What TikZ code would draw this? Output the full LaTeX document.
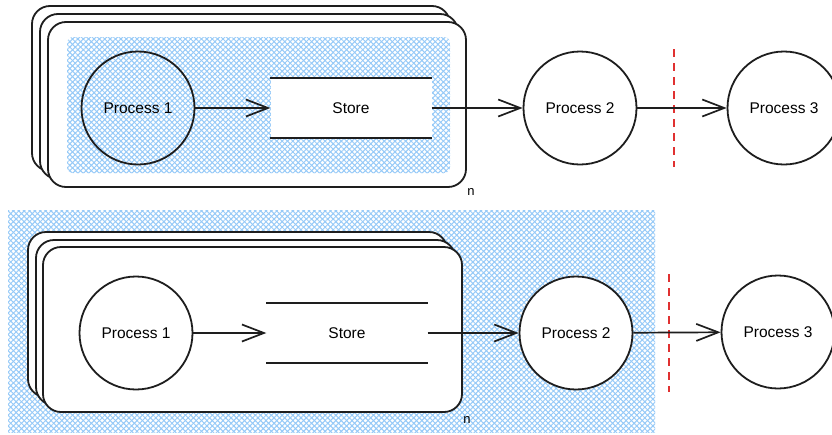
\documentclass[tikz,border=0pt]{standalone}
\usepackage{fontspec}
\setmainfont{Liberation Sans}
\usetikzlibrary{arrows.meta,patterns.meta}
\definecolor{hatch}{RGB}{150,202,248}
\definecolor{cutred}{RGB}{224,49,49}
\definecolor{ink}{RGB}{30,30,30}
\tikzset{
  page/.style={draw=ink,line width=1.8pt,fill=white,rounded corners=18pt},
  proc/.style={circle,draw=ink,line width=1.8pt,minimum size=113pt,inner sep=0pt,font=\fontsize{15.5}{18}\selectfont},
  proch/.style={circle,draw=ink,line width=1.8pt,minimum size=113pt,inner sep=0pt,font=\fontsize{15.5}{18}\selectfont},
  storebox/.style={rectangle,minimum width=161pt,minimum height=60pt,inner sep=0pt,font=\fontsize{15.5}{18}\selectfont},
  storeline/.style={draw=ink,line width=1.5pt},
  arr/.style={draw=ink,line width=1.7pt,-{Straight Barb[length=22pt,width=17pt,line width=1.7pt]}},
  cut/.style={draw=cutred,line width=1.8pt,dash pattern=on 8pt off 6pt},
  hatchA/.style={pattern={Lines[angle=45,distance=3.8pt,line width=1pt]},pattern color=hatch},
  hatchB/.style={pattern={Lines[angle=-45,distance=3.8pt,line width=1pt]},pattern color=hatch},
  nlab/.style={font=\fontsize{13}{15}\selectfont,inner sep=0pt}
}
\begin{document}
\begin{tikzpicture}[x=1pt,y=-1pt]
\useasboundingbox[fill=white] (0,0) rectangle (832,434);
% ===== top diagram =====
\draw[page] (32,6) rectangle (450,171);
\draw[page] (40,14) rectangle (458,179);
\draw[page] (48,22) rectangle (466,187);
\fill[hatchA,rounded corners=6pt] (67,37) rectangle (450,173);
\fill[hatchB,rounded corners=6pt] (67,37) rectangle (450,173);
\node[proch] (tp1) at (138,108) {Process 1};
\node[storebox,fill=white] (ts) at (351,108) {Store};
\draw[storeline] (ts.north west) -- (ts.north east);
\draw[storeline] (ts.south west) -- (ts.south east);
\node[proc,fill=white] (tp2) at (580,108) {Process 2};
\node[proc,fill=white] (tp3) at (784,108) {Process 3};
\coordinate (tc1) at (674,49);
\coordinate (tc2) at (674,167);
\draw[cut] (tc1) -- (tc2);
\draw[arr] (tp1) -- (ts.west);
\draw[arr] (ts.east) -- (tp2);
\draw[arr] (tp2) -- (tp3);
\node[nlab] (tn) at (471,192) {n};
% ===== bottom diagram =====
\fill[hatchA] (8,210) rectangle (655,432);
\fill[hatchB] (8,210) rectangle (655,432);
\draw[page] (28,232) rectangle (447,397);
\draw[page] (36,240) rectangle (455,405);
\draw[page] (43,247) rectangle (462,412);
\node[proc,fill=white] (bp1) at (136,333) {Process 1};
\node[storebox] (bs) at (347,333) {Store};
\draw[storeline] (bs.north west) -- (bs.north east);
\draw[storeline] (bs.south west) -- (bs.south east);
\node[proc,fill=white] (bp2) at (576,333) {Process 2};
\node[proc,fill=white] (bp3) at (778,332) {Process 3};
\coordinate (bc1) at (669,274);
\coordinate (bc2) at (669,392);
\draw[cut] (bc1) -- (bc2);
\draw[arr] (bp1) -- (bs.west);
\draw[arr] (bs.east) -- (bp2);
\draw[arr] (bp2) -- (bp3);
\node[nlab] (bn) at (467,420) {n};
\end{tikzpicture}
\end{document}
